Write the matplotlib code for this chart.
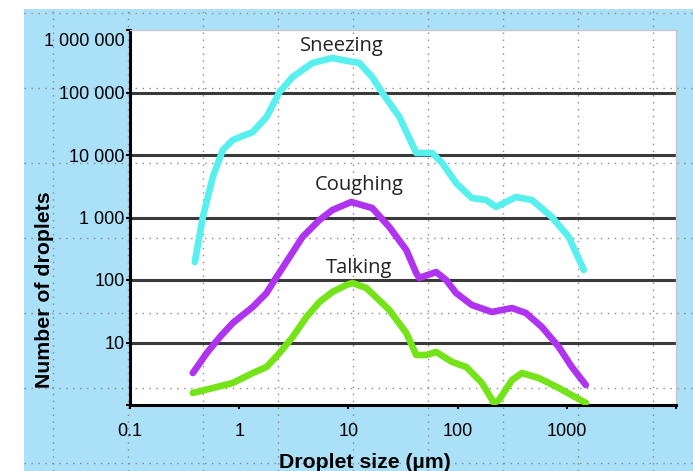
import matplotlib
matplotlib.use("Agg")
import matplotlib.pyplot as plt
from matplotlib.lines import Line2D
from matplotlib.patches import Rectangle
from matplotlib.transforms import ScaledTranslation

# droplet size (um) and number of droplets
sneeze_x = [0.392, 0.465, 0.573, 0.707, 0.873, 1.33, 1.78, 2.34, 3.08, 4.69, 7.14, 8.81,
            12.6, 16.5, 20.5, 29.3, 41.8, 58.5, 72.1, 96.8, 135, 182, 225, 342, 479, 729,
            1042, 1430]
sneeze_y = [194, 1019, 4446, 12020, 17378, 23335, 40550, 101900, 177000, 296500, 356500,
            331000, 296500, 177000, 98200, 40550, 10770, 10770, 7450, 3565, 2051, 1905,
            1472, 2128, 1905, 1019, 488, 145]

cough_x = [0.376, 0.505, 0.664, 0.873, 1.33, 1.78, 2.20, 2.89, 3.80, 5.43, 7.14, 10.6,
           16.5, 23.7, 33.9, 41.8, 44.5, 63.6, 78.5, 96.8, 135, 206, 315, 423, 591, 845,
           1112, 1493]
cough_y = [3.25, 6.79, 12.2, 20.5, 37.0, 61.9, 112, 233, 488, 912, 1318, 1770,
           1419, 705, 302, 129, 108, 134, 100, 61.9, 39.8, 30.8, 35.6, 29.6, 17.7, 8.47,
           4.06, 2.09]

talk_x = [0.376, 0.573, 0.873, 1.33, 1.78, 2.34, 3.08, 4.13, 5.43, 7.14, 9.59, 10.9,
          14.6, 23.7, 33.9, 41.8, 51.5, 63.6, 89.1, 120, 167, 215, 239, 315, 388, 554,
          845, 1493]
talk_y = [1.56, 1.87, 2.25, 3.25, 4.06, 6.79, 12.2, 25.6, 44.5, 64.3, 83.2, 89.5,
          74.5, 33.1, 14.2, 6.31, 6.31, 7.05, 4.88, 4.06, 2.25, 1.08, 1.2, 2.51, 3.25, 2.70,
          1.87, 1.08]

x_ticks = [0.1, 1, 10, 100, 1000, 10000]
x_labels = ["0.1", "1", "10", "100", "1000", ""]
y_ticks = [1, 10, 100, 1000, 10000, 100000, 1000000]
y_labels = ["", "10", "100", "1 000", "10 000", "100 000", "1 000 000"]

W, H = 693, 471


def fx(px):
    return px / W


def fy(py):
    return 1 - py / H


fig = plt.figure(figsize=(6.93, 4.71), dpi=100, facecolor="white")
fig.patches.append(Rectangle((fx(24), 0), 1 - fx(24), fy(9), transform=fig.transFigure,
                             facecolor="#aae0f8", edgecolor="none", zorder=-5))

ax = fig.add_axes([fx(130), fy(405), fx(676) - fx(130), fy(30) - fy(405)])
ax.set_xscale("log")
ax.set_yscale("log")
ax.set_xlim(0.1, 10000)
ax.set_ylim(1, 1000000)

# dotted canvas grid over the whole blue area
for gx in range(53, 693, 75):
    ax.add_artist(Line2D([fx(gx), fx(gx)], [0, fy(9)], transform=fig.transFigure,
                         clip_on=False, color="#8a8a8a", lw=1, ls=(0, (1, 4)), zorder=0.5))
for gy in range(13, 471, 75):
    ax.add_artist(Line2D([fx(24), 1], [fy(gy), fy(gy)], transform=fig.transFigure,
                         clip_on=False, color="#8a8a8a", lw=1, ls=(0, (1, 4)), zorder=0.5))

for v in y_ticks[1:-1]:
    ax.axhline(v, color="#3a3a3a", lw=2.2, zorder=1)

ax.plot(sneeze_x, sneeze_y, color="#58f0ee", lw=4.8, solid_capstyle="round",
        solid_joinstyle="round", zorder=3)
ax.plot(cough_x, cough_y, color="#b033f0", lw=4.8, solid_capstyle="round",
        solid_joinstyle="round", zorder=3)
ax.plot(talk_x, talk_y, color="#74e418", lw=4.8, solid_capstyle="round",
        solid_joinstyle="round", zorder=3)

ax.set_xticks(x_ticks)
ax.set_xticklabels(x_labels)
ax.set_yticks(y_ticks)
ax.set_yticklabels(y_labels)
ax.minorticks_off()
ax.tick_params(axis="both", direction="out", length=3, width=1.5, color="black",
               labelsize=13, labelfontfamily="Liberation Sans")
ax.tick_params(axis="x", pad=10)
ax.tick_params(axis="y", pad=1)

for lab in ax.get_yticklabels():
    if lab.get_text() == "1 000 000":
        lab.set_transform(lab.get_transform() + ScaledTranslation(0, -0.1, fig.dpi_scale_trans))

for side in ["left", "bottom"]:
    ax.spines[side].set_linewidth(2.2)
    ax.spines[side].set_color("black")
for side in ["top", "right"]:
    ax.spines[side].set_linewidth(1)
    ax.spines[side].set_color("#c8c8c8")

fig.text(fx(45), fy(290), "Number of droplets", rotation=90, ha="center", va="center",
         fontsize=15.3, fontweight="bold", family="Liberation Sans")
fig.text(fx(365), fy(462), "Droplet size (\u00b5m)", ha="center", va="center",
         fontsize=15.3, fontweight="bold", family="Liberation Sans")

fig.text(fx(342), fy(46), "Sneezing", ha="center", va="center", fontsize=14.5,
         family="Open Sans", color="#222222")
fig.text(fx(359), fy(185), "Coughing", ha="center", va="center", fontsize=14.5,
         family="Open Sans", color="#222222")
fig.text(fx(359), fy(268), "Talking", ha="center", va="center", fontsize=14.5,
         family="Open Sans", color="#222222")

fig.savefig("out.png", dpi=100, facecolor="white")
